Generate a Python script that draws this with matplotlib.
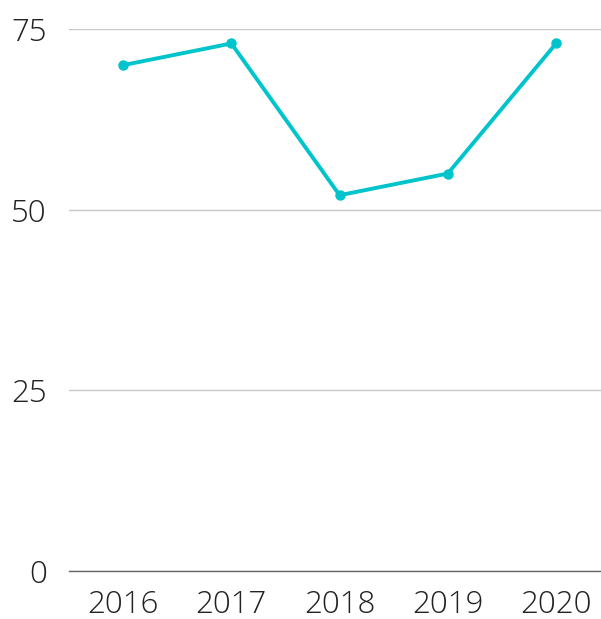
import matplotlib.pyplot as plt
import numpy as np

years = ['2016', '2017', '2018', '2019', '2020']
values = [70, 73, 52, 55, 73]
yticks = [0, 25, 50, 75]

plt.rcParams['font.family'] = ['Open Sans', 'DejaVu Sans']

W, H = 601, 619
fig = plt.figure(figsize=(W / 100, H / 100), dpi=100)
ax = fig.add_axes([69 / W, 1 - 571 / H, 1 - 69 / W, (571 - 29) / H])

x = np.arange(len(years))
ax.plot(x, values, color='#00C4CC', lw=2.8, marker='o', ms=6.5, zorder=3,
        solid_capstyle='round')

ax.set_xlim(-0.5, 4.415)
ax.set_ylim(0, 75)
ax.set_xticks(x)
ax.set_xticklabels(years)
ax.set_yticks(yticks)
ax.grid(axis='y', color='#c8c8c8', lw=1)
ax.set_axisbelow(True)

for s in ['top', 'right', 'left']:
    ax.spines[s].set_visible(False)
ax.spines['bottom'].set_color('#666666')
ax.spines['bottom'].set_linewidth(1)

ax.tick_params(axis='both', length=0, labelsize=22.5, colors='#222222')
ax.tick_params(axis='y', pad=16)
ax.tick_params(axis='x', pad=13)
for lab in ax.get_xticklabels() + ax.get_yticklabels():
    lab.set_fontweight('light')

fig.savefig('out.png', dpi=100)
